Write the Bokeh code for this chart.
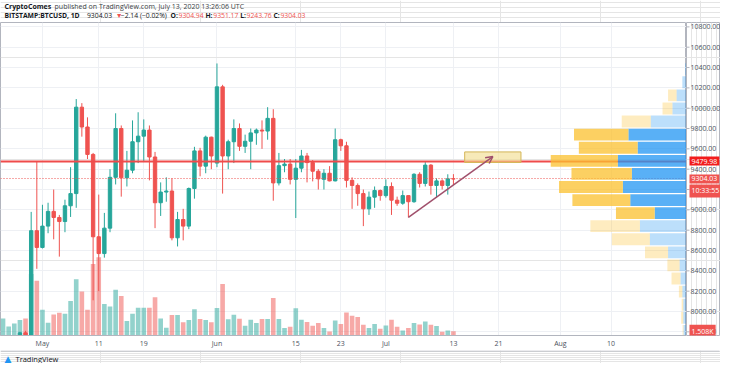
import pandas as pd
from bokeh.plotting import figure
from bokeh.layouts import column, row
from bokeh.models import (Range1d, FixedTicker, Label, Arrow, OpenHead, ColumnDataSource, Grid)
from bokeh.core.properties import value
from bokeh.embed import file_html
from bokeh.resources import INLINE

# ---------------- data ----------------
dates = (
    ["2020-04-%02d" % d for d in range(24, 31)]
    + ["2020-05-%02d" % d for d in range(1, 32)]
    + ["2020-06-%02d" % d for d in range(1, 31)]
    + ["2020-07-%02d" % d for d in range(1, 14)]
)
opens = [7500, 7540, 7550, 7700, 7790, 7760, 8795,
         8630, 8840, 8985, 8925, 8885, 9040, 9160, 10010, 9815, 9545, 8735, 8570, 8820, 9320,
         9800, 9315, 9390, 9670, 9725, 9785, 9520, 9070, 9175, 9185, 8725, 8905, 8840, 9210,
         9580, 9430, 9715,
         9460, 10210, 9530, 9670, 9800, 9625, 9675, 9757, 9785, 9775, 9900, 9265, 9435, 9450,
         9300, 9410, 9530, 9465, 9380, 9300, 9360, 9285, 9690, 9630, 9290, 9240, 9160, 9010,
         9125, 9190,
         9140, 9230, 9095, 9065, 9140, 9080, 9350, 9260, 9440, 9240, 9285, 9240, 9304.94]
highs = [7620, 7700, 7720, 7800, 7810, 8980, 9480,
         9050, 9070, 9200, 8950, 9100, 9420, 10090, 10050, 9910, 9560, 9150, 8970, 9400, 9950,
         9830, 9580, 9880, 9960, 9890, 9830, 9570, 9270, 9320, 9310, 8980, 9010, 9220, 9620,
         9610, 9730, 9720,
         10440, 10230, 9690, 9890, 9850, 9740, 9800, 9800, 9880, 10010, 9990, 9560, 9500, 9500,
         9500, 9590, 9560, 9490, 9400, 9400, 9430, 9800, 9700, 9670, 9320, 9260, 9200, 9180,
         9230, 9200,
         9300, 9270, 9130, 9190, 9140, 9360, 9370, 9470, 9450, 9310, 9300, 9350, 9351.17]
lows = [7420, 7450, 7500, 7660, 7670, 7720, 8420,
        8620, 8770, 8710, 8540, 8780, 8930, 9020, 9720, 9500, 8110, 8200, 8530, 8780, 9250,
        9130, 9230, 9360, 9460, 9470, 9290, 8820, 8940, 9080, 8700, 8640, 8700, 8810, 9110,
        9330, 9360, 9400,
        9420, 9160, 9400, 9460, 9580, 9560, 9400, 9640, 9600, 9690, 9090, 9240, 9370, 9250,
        8920, 9370, 9270, 9280, 9200, 9200, 9280, 9280, 9580, 9220, 9010, 9040, 8840, 8950,
        9020, 9090,
        9120, 8950, 9040, 9050, 8925, 9070, 9220, 9230, 9150, 9120, 9200, 9150, 9243.76]
closes = [7540, 7550, 7700, 7790, 7760, 8795, 8630,
          8840, 8985, 8925, 8885, 9040, 9160, 10010, 9815, 9545, 8735, 8570, 8820, 9320, 9800,
          9315, 9390, 9670, 9725, 9785, 9520, 9070, 9175, 9185, 8725, 8905, 8840, 9210, 9580,
          9430, 9715, 9530,
          10210, 9530, 9670, 9800, 9625, 9675, 9757, 9785, 9775, 9900, 9265, 9435, 9450, 9300,
          9410, 9530, 9465, 9380, 9305, 9360, 9285, 9690, 9630, 9290, 9240, 9160, 9010, 9125,
          9190, 9140,
          9230, 9095, 9065, 9140, 9080, 9350, 9260, 9440, 9240, 9285, 9240, 9304.94, 9304.03]
volumes_k = [6.1, 3.2, 4.3, 5.5, 6.1, 22.0, 19.6,
             9.2, 4.6, 7.5, 8.1, 7.8, 12.3, 20.1, 15.7, 9.2, 25.6, 28.0, 11.3, 10.4, 16.4,
             14.1, 5.2, 7.8, 9.9, 9.9, 9.9, 13.7, 6.1, 2.8, 7.3, 7.3, 4.7, 5.5, 9.4,
             5.9, 5.5, 4.7,
             9.8, 18.4, 5.8, 7.4, 6.0, 3.5, 5.6, 4.5, 5.9, 5.9, 13.4, 5.9, 2.7, 3.1,
             9.7, 5.6, 4.8, 3.5, 4.5, 2.7, 1.4, 5.4, 4.1, 8.2, 7.1, 6.6, 3.8, 2.7,
             4.1, 2.4,
             3.6, 5.6, 3.1, 1.8, 2.7, 4.5, 3.9, 5.0, 3.8, 3.4, 1.3, 1.8, 1.508]

tick_dates = ["2020-05-01", "2020-05-11", "2020-05-19", "2020-06-01", "2020-06-15",
              "2020-06-23", "2020-07-01", "2020-07-13", "2020-07-21", "2020-08-01", "2020-08-10"]
tick_labels = ["May", "11", "19", "Jun", "15", "23", "Jul", "13", "21", "Aug", "10"]
price_ticks = [7800, 8000, 8200, 8400, 8600, 8800, 9000, 9200, 9400, 9600, 9800,
               10000, 10200, 10400, 10600, 10800]

# volume profile (visible range): bin lower edges, up / down volume (K)
vp_low = [7745, 7874, 8002, 8131, 8260, 8389, 8517, 8646, 8775, 8903, 9032,
          9161, 9290, 9418, 9547, 9676, 9805, 9933, 10062, 10191, 10319]
vp_row = 128.7
vp_up_k = [1.3, 1.4, 1.4, 1.8, 2.6, 3.0, 8.0, 15.9, 20.2, 13.8, 24.4,
           27.6, 23.7, 29.8, 21.2, 25.2, 15.5, 6.1, 4.3, 1.8, 0.6]
vp_down_k = [0.4, 0.9, 0.7, 1.5, 3.9, 5.3, 10.0, 16.5, 21.5, 16.8, 25.1,
             27.7, 26.2, 29.1, 25.5, 23.6, 12.6, 4.3, 3.7, 0.0, 0.0]
vp_in_value_area = [False] * 9 + [True] * 7 + [False] * 5

hline_price = 9479.98
last_price = 9304.03
last_volume_k = 1.508
countdown = "10:33:55"
zone_dates = ["2020-07-15", "2020-07-25"]
zone_prices = [9466, 9570]
arrow_dates = ["2020-07-05", "2020-07-20"]
arrow_prices = [8926, 9524]

header1 = [("CryptoComes", True, "txt"),
           (" published on TradingView.com, July 13, 2020 13:26:06 UTC", False, "sub")]
header2 = [("BITSTAMP:BTCUSD, 1D", True, "txt"), (" 9304.03 ", False, "txt"),
           ("\u25bc", False, "dn"), (" \u22122.14 (\u22120.02%) ", False, "txt"),
           ("O:", True, "txt"), ("9304.94 ", False, "dn"),
           ("H:", True, "txt"), ("9351.17 ", False, "dn"),
           ("L:", True, "txt"), ("9243.76 ", False, "dn"),
           ("C:", True, "txt"), ("9304.03", False, "dn")]

# ---------------- styling ----------------
base = pd.Timestamp("2020-05-01")


def day(d):
    return (pd.Timestamp(d) - base).days


UP, DN = "#26a69a", "#ef5350"
TXT = "#131722"
AX = "#4c525e"
LINE = "#b2b5be"
GRID = "#eef0f4"
FONT = "Open Sans"
COL = {"txt": TXT, "sub": "#3c3f46", "dn": DN}

TOTAL_W = 720
HEAD_H, FOOT_H = 22, 13
MAIN_W, RIGHT_W = 686, 34
MAIN_H = 363 - HEAD_H - FOOT_H
XAX_H = 12

X0, X1 = -7.45, 114.4
Y0, Y1 = 7764, 10843
y_range = Range1d(Y0, Y1)
vol_range = Range1d(0, 111.9)

x = [day(d) for d in dates]
colors = [UP if c >= o else DN for o, c in zip(opens, closes)]
src = ColumnDataSource(dict(
    x=x, h=highs, l=lows,
    top=[max(o, c) for o, c in zip(opens, closes)],
    bot=[min(o, c) for o, c in zip(opens, closes)],
    color=colors, vol=volumes_k))

# ---------------- main chart ----------------
p = figure(width=MAIN_W, height=MAIN_H, x_range=Range1d(X0, X1), y_range=y_range,
           y_axis_location=None, output_backend="svg", toolbar_location=None,
           min_border_left=0, min_border_right=0, min_border_top=0, min_border_bottom=XAX_H)
p.background_fill_color = "white"
p.border_fill_color = "white"
p.outline_line_color = LINE
p.extra_y_ranges = {"vol": vol_range}
p.extra_x_ranges = {"vp": Range1d(297.6, 0)}

tick_x = [day(d) for d in tick_dates]
p.xaxis.ticker = FixedTicker(ticks=tick_x)
p.xaxis.major_label_overrides = {t: l for t, l in zip(tick_x, tick_labels)}
p.xaxis.major_tick_out = 0
p.xaxis.major_tick_in = 0
p.xaxis.minor_tick_line_color = None
p.xaxis.axis_line_color = LINE
p.xaxis.major_label_text_font = FONT
p.xaxis.major_label_text_font_size = "7px"
p.xaxis.major_label_text_color = AX
p.xaxis.major_label_standoff = 3
p.xgrid.grid_line_color = GRID
p.add_layout(Grid(dimension=1, ticker=FixedTicker(ticks=price_ticks), grid_line_color=GRID))

# volume
p.vbar(x="x", width=0.82, top="vol", bottom=0, source=src, y_range_name="vol",
       fill_color="color", fill_alpha=0.5, line_color=None)
# candles
p.segment(x0="x", y0="l", x1="x", y1="h", source=src, line_color="color", line_width=1)
p.vbar(x="x", width=0.6, top="top", bottom="bot", source=src,
       fill_color="color", line_color="color", line_width=1)

# price lines
p.hspan(y=[last_price], line_color=DN, line_width=1, line_dash="1 2")
p.hspan(y=[hline_price], line_color="#ef4b4b", line_width=2)

# drawing: zone + arrow
p.quad(left=[day(zone_dates[0])], right=[day(zone_dates[1])],
       bottom=[zone_prices[0]], top=[zone_prices[1]],
       fill_color="#f2dc8a", fill_alpha=0.6, line_color="#d4b658", line_width=1)
p.add_layout(Arrow(end=OpenHead(size=7, line_color="#a0506c", line_width=1.5),
                   x_start=day(arrow_dates[0]), y_start=arrow_prices[0],
                   x_end=day(arrow_dates[1]), y_end=arrow_prices[1],
                   line_color="#a0506c", line_width=1.5))

# volume profile
vp_y = [lo + vp_row / 2 for lo in vp_low]
vp_tot = [u + d for u, d in zip(vp_up_k, vp_down_k)]
for flag, alpha in ((True, 0.75), (False, 0.3)):
    idx = [i for i, f in enumerate(vp_in_value_area) if f == flag]
    p.hbar(y=[vp_y[i] for i in idx], height=vp_row - 12, left=0,
           right=[vp_up_k[i] for i in idx], x_range_name="vp",
           fill_color="#2196f3", fill_alpha=alpha, line_color=None)
    p.hbar(y=[vp_y[i] for i in idx], height=vp_row - 12,
           left=[vp_up_k[i] for i in idx], right=[vp_tot[i] for i in idx],
           x_range_name="vp", fill_color="#fbc02d", fill_alpha=alpha, line_color=None)

# ---------------- right price scale ----------------
r = figure(width=RIGHT_W, height=MAIN_H, x_range=Range1d(0, RIGHT_W), y_range=y_range,
           x_axis_location=None, y_axis_location=None, output_backend="svg",
           toolbar_location=None, min_border_left=0, min_border_right=0, min_border_top=0,
           min_border_bottom=XAX_H)
r.outline_line_color = LINE
r.background_fill_color = "white"
r.border_fill_color = "white"
r.extra_y_ranges = {"vol": vol_range}
r.segment(x0=0, x1=3, y0=price_ticks, y1=price_ticks, line_color=LINE, line_width=1)
r.text(x=4, y=price_ticks, text=[f"{t:.2f}" for t in price_ticks],
       text_font=value(FONT), text_font_size="7px", text_color=AX,
       text_baseline="middle", text_align="left")


def box(y, text, bg, y_range_name="default", y_off=0):
    r.add_layout(Label(x=3, y=y, y_range_name=y_range_name, y_offset=y_off,
                       text=text, text_font=FONT, text_font_size="7px", text_color="white",
                       text_baseline="middle", text_align="left",
                       background_fill_color=bg, padding=2))


box(hline_price, f"{hline_price:.2f}", "#f21c1c")
box(last_price, f"{last_price:.2f}", DN)
box(last_price, countdown, DN, y_off=-12)
box(last_volume_k, f"{last_volume_k:.3f}K", DN, y_range_name="vol")

# ---------------- header ----------------
W_REG = {' ': 532, '%': 1696, '(': 604, ')': 604, ',': 502, '-': 659, '.': 545, ':': 545,
         'C': 1292, 'T': 1149, 'U': 1466, 'V': 1212, 'J': 547, 'a': 1139, 'b': 1255,
         'c': 975, 'd': 1255, 'e': 1149, 'g': 1122, 'h': 1257, 'i': 518, 'l': 518, 'm': 1905,
         'n': 1257, 'o': 1237, 'p': 1255, 'r': 836, 's': 977, 'u': 1257, 'w': 1593,
         'y': 1028, '\u2212': 1171, '\u25bc': 1556}
W_BOLD = {' ': 532, ':': 586, ',': 537, 'B': 1399, 'I': 655, 'T': 1165, 'S': 1135,
          'A': 1460, 'M': 1890, 'P': 1323, 'U': 1499, 'D': 1526, 'C': 1313, 'O': 1614,
          'H': 1565, 'L': 1159, 'r': 897, 'y': 1124, 'p': 1264, 't': 813, 'o': 1235,
          'm': 1929, 'e': 1184, 's': 1007}


def tw(s, bold, size):
    tab = W_BOLD if bold else W_REG
    k = 1.1 if bold else 1.0
    return k * sum(tab.get(ch, 1171) for ch in s) / 2048 * size


h = figure(width=TOTAL_W, height=HEAD_H, x_range=Range1d(0, TOTAL_W), y_range=Range1d(0, HEAD_H),
           x_axis_location=None, y_axis_location=None, output_backend="svg",
           toolbar_location=None, min_border=0)
h.outline_line_color = None
h.background_fill_color = "white"
h.border_fill_color = "white"


def header_line(segments, yc, size):
    xs, ts, cs, st = [], [], [], []
    xo = 4.0
    for text, bold, col in segments:
        xs.append(xo)
        ts.append(text)
        cs.append(COL[col])
        st.append("bold" if bold else "normal")
        xo += tw(text, bold, size)
    h.text(x=xs, y=[yc] * len(xs), text=ts, text_color=cs, text_font_style=st,
           text_font=value(FONT), text_font_size=f"{size}px", text_baseline="middle",
           text_align="left")


header_line(header1, 16, 7)
header_line(header2, 7, 6.8)

# ---------------- footer ----------------
f = figure(width=TOTAL_W, height=FOOT_H, x_range=Range1d(0, TOTAL_W), y_range=Range1d(0, FOOT_H),
           x_axis_location=None, y_axis_location=None, output_backend="svg",
           toolbar_location=None, min_border=0)
f.outline_line_color = None
f.background_fill_color = "white"
f.border_fill_color = "white"
f.segment(x0=[0], x1=[TOTAL_W - 1], y0=[FOOT_H - 0.5], y1=[FOOT_H - 0.5], line_color=LINE)
f.text(x=[4], y=[5], text=["\u25b2"], text_font=value("DejaVu Sans"), text_font_size="9px",
       text_color="#2196f3", text_baseline="middle", text_align="left")
f.text(x=[15], y=[5], text=["TradingView"], text_font=value(FONT), text_font_size="7.5px",
       text_color=TXT, text_baseline="middle", text_align="left")

layout = column(h, row(p, r, spacing=0), f, spacing=0)
open("out.html", "w").write(file_html(layout, INLINE))
